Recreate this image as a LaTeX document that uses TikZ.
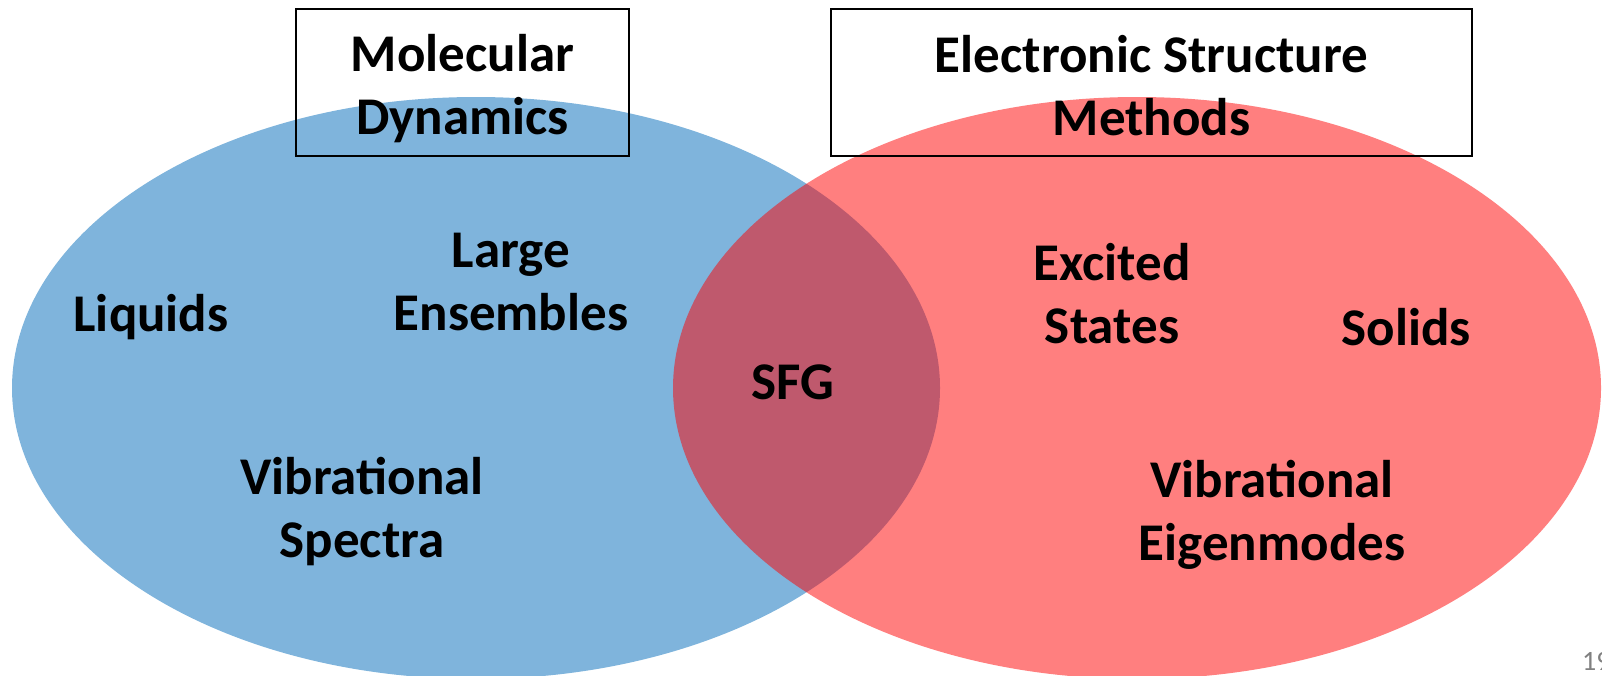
\documentclass[tikz,border=0pt]{standalone}
\usepackage{fontspec}
\setmainfont{Carlito}
\definecolor{mdblue}{RGB}{127,180,220}
\definecolor{esred}{RGB}{255,0,0}
\definecolor{pagegray}{RGB}{128,128,128}
\begin{document}
\begin{tikzpicture}[x=1pt,y=-1pt,
  lbl/.style={align=center,font=\bfseries\fontsize{53}{63}\selectfont,inner sep=0pt},
  titlebox/.style={draw=black,line width=1.2pt,minimum height=147pt,inner sep=0pt}]
\useasboundingbox (0,0) rectangle (1602,675);
\fill[mdblue] (476,388) ellipse [x radius=464pt, y radius=291pt];
\fill[esred,fill opacity=0.5] (1137,388) ellipse [x radius=464pt, y radius=291pt];
\node[titlebox,minimum width=333pt] (mdbox) at (462.5,82.5) {};
\node[titlebox,minimum width=641pt] (esbox) at (1151.5,82.5) {};
\node[lbl] (md) at (mdbox.center) [yshift=-6pt] {Molecular\\Dynamics};
\node[lbl] (es) at (esbox.center) [yshift=-3pt] {Electronic Structure\\Methods};
\node[lbl] (liq) at (151,317) {Liquids};
\node[lbl] (ens) at (511,282) {Large\\Ensembles};
\node[lbl] (vs) at (362,512) {Vibrational\\Spectra};
\node[lbl] (sfg) at (793,382) {SFG};
\node[lbl] (exc) at (1112,294) {Excited\\States};
\node[lbl] (sol) at (1406,327) {Solids};
\node[lbl] (ve) at (1272,515) {Vibrational\\Eigenmodes};
\node[anchor=base west,inner sep=0pt,text=pagegray,font=\fontsize{28}{32}\selectfont] (pg) at (1582,670) {19};
\end{tikzpicture}
\end{document}
